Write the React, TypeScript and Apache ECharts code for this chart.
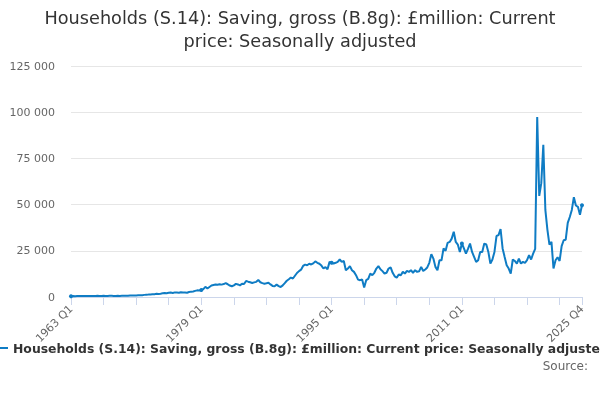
import React, { useEffect, useRef } from "react";
import * as echarts from "echarts";

const firstYear = 1963;
const lastYear = 2025;

// quarterly values, £million
const saving1960s = [
  450, 480, 470, 500, 500, 520, 540, 530, 560, 550, 580, 570,
  600, 620, 580, 600, 620, 600, 580, 640, 620, 600, 580, 620,
  600, 650, 700, 680,
];
const saving1970s = [
  720, 800, 760, 850, 800, 900, 950, 1000, 1150, 1250, 1300, 1400,
  1500, 1550, 1700, 1650, 1800, 2000, 2100, 2000, 2300, 2400, 2200, 2500,
  2400, 2300, 2600, 2500, 2400, 2300, 2700, 2900, 3000, 3300, 3600, 3500,
  3800, 4300, 5500, 4600,
];
const saving1980s = [
  5400, 6200, 6500, 6800, 6600, 6900, 6700, 7000, 7500, 6900, 6200, 5800,
  6300, 7100, 6800, 6300, 7200, 7000, 8700, 8300, 8000, 7600, 7900, 8200,
  9200, 8000, 7500, 7200, 7400, 7700, 6800, 6000, 5800, 6700, 5900, 5400,
  6300, 7500, 8800, 9600,
];
const saving1990s = [
  10500, 10000, 11500, 13000, 14000, 14800, 16800, 17500, 17200, 18000, 17600, 18200,
  19300, 18500, 18000, 17000, 15400, 16200, 15000, 19000, 18500, 18100, 18500, 19000,
  20300, 19000, 19500, 14500, 15400, 16700, 14500, 13600, 11800, 9400, 9100, 9500,
  5100, 9100, 9800, 12700,
];
const saving2000s = [
  11800, 13100, 15400, 16700, 15000, 14000, 12700, 13100, 15400, 16000, 13100, 11200,
  10500, 12200, 11800, 13600, 12700, 14100, 13600, 14500, 13100, 14500, 13600, 13900,
  16300, 14100, 14900, 16000, 18500, 23200, 20800, 16300, 14500, 19900, 19900, 26300,
  25000, 29300, 29800, 31600,
];
const saving2010s = [
  35300, 29800, 28400, 24400, 29000, 26300, 23500, 26000, 28900, 24400, 21700, 19000,
  19900, 24400, 24400, 28900, 28400, 24400, 18100, 20300, 24400, 33000, 33500, 36800,
  26300, 21700, 17200, 15400, 12700, 20300, 19500, 18100, 20800, 18100, 19000, 18500,
  19900, 22600, 20300, 23500,
];
const saving2020s = [
  26000, 97400, 54700, 61600, 82400, 47100, 36500, 28400, 29800, 15400, 19900, 21500,
  19500, 27500, 30700, 31000, 40100, 43300, 47100, 54000, 49500, 48800, 44500, 49700,
];

const savingValues = [
  ...saving1960s, ...saving1970s, ...saving1980s, ...saving1990s,
  ...saving2000s, ...saving2010s, ...saving2020s,
];

const quarters: string[] = [];
for (let y = firstYear; y <= lastYear; y++) {
  for (let q = 1; q <= 4; q++) quarters.push(`${y} Q${q}`);
}

const seriesName =
  "Households (S.14): Saving, gross (B.8g): £million: Current price: Seasonally adjusted";
const titleText =
  "Households (S.14): Saving, gross (B.8g): £million: Current\nprice: Seasonally adjusted";

const yTicks = { min: 0, max: 125000, step: 25000 };

const fmt = (v: number) => String(v).replace(/\B(?=(\d{3})+(?!\d))/g, " ");

export default function App() {
  const chartRef = useRef<HTMLDivElement>(null);

  useEffect(() => {
    if (!chartRef.current) return;
    const chart = echarts.init(chartRef.current, null, { renderer: "svg" });
    const last = quarters.length - 1;

    chart.setOption({
      animation: false,
      textStyle: { fontFamily: "DejaVu Sans" },
      title: {
        text: titleText,
        left: "center",
        top: 1,
        textStyle: {
          fontSize: 17.7,
          fontWeight: "normal",
          color: "#333333",
          lineHeight: 23,
        },
      },
      grid: { left: 71, right: 18, top: 66, bottom: 103 },
      legend: {
        data: [seriesName],
        left: -13,
        top: 337,
        icon: "rect",
        itemWidth: 16,
        itemHeight: 2,
        itemGap: 5,
        textStyle: { fontSize: 12.4, fontWeight: "bold", color: "#333333" },
      },
      graphic: [
        {
          type: "text",
          right: 12,
          top: 360,
          style: { text: "Source:", fontSize: 12, fill: "#666666", fontFamily: "DejaVu Sans" },
        },
      ],
      xAxis: {
        type: "category",
        data: quarters,
        boundaryGap: false,
        axisLine: { lineStyle: { color: "#ccd6eb" } },
        axisTick: {
          length: 8,
          lineStyle: { color: "#ccd6eb" },
          interval: (i: number) => i % 16 === 0 || i === last,
        },
        axisLabel: {
          rotate: 45,
          color: "#666666",
          fontSize: 11,
          margin: 10,
          interval: (i: number) => i % 64 === 0 || i === last,
        },
      },
      yAxis: {
        type: "value",
        min: yTicks.min,
        max: yTicks.max,
        interval: yTicks.step,
        axisLine: { show: false },
        axisTick: { show: false },
        splitLine: { lineStyle: { color: "#e6e6e6" } },
        axisLabel: { color: "#666666", fontSize: 11, margin: 16, formatter: fmt },
      },
      series: [
        {
          name: seriesName,
          type: "line",
          data: savingValues,
          color: "#0f7cc4",
          symbol: "circle",
          symbolSize: 4,
          showSymbol: true,
          lineStyle: { width: 2 },
        },
      ],
    });

    return () => chart.dispose();
  }, []);

  return (
    <div
      ref={chartRef}
      style={{ position: "fixed", left: 0, top: 0, width: 600, height: 400 }}
    />
  );
}
